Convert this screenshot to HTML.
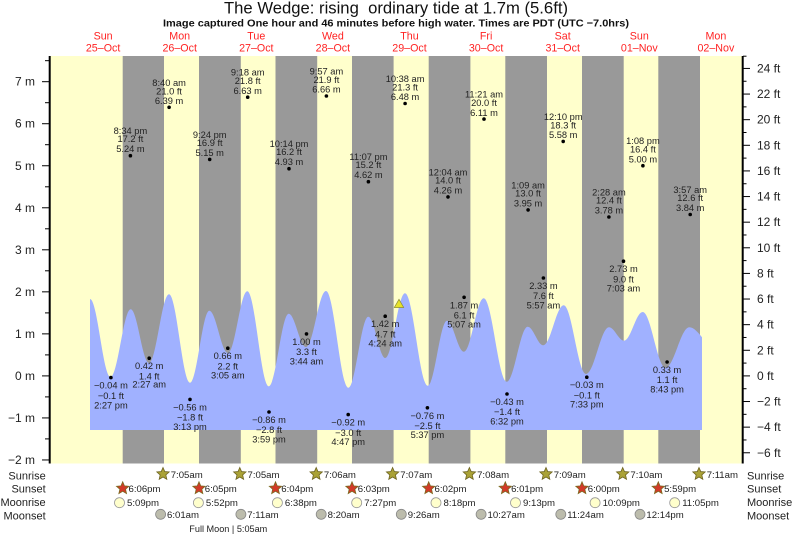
<!DOCTYPE html>
<html><head><meta charset="utf-8"><style>
html,body{margin:0;padding:0;background:#fff;}
svg{display:block;}
</style></head><body>
<svg width="793" height="537" viewBox="0 0 793 537" xmlns="http://www.w3.org/2000/svg" font-family="'Liberation Sans', Arial, sans-serif">
<defs>
<path id="star" d="M0,-6.5 L1.76,-2.43 L6.18,-2.01 L2.85,0.93 L3.82,5.26 L0,3 L-3.82,5.26 L-2.85,0.93 L-6.18,-2.01 L-1.76,-2.43 Z"/>
<clipPath id="tc"><rect x="90" y="56" width="612" height="380"/></clipPath>
</defs>
<rect width="793" height="537" fill="#fff"/>
<!-- title -->
<text x="224" y="13.5" font-size="16.5" fill="#111" textLength="344" lengthAdjust="spacingAndGlyphs">The Wedge: rising &#160;ordinary tide at 1.7m (5.6ft)</text>
<text x="163" y="26.5" font-size="10.5" font-weight="bold" fill="#111" textLength="466" lengthAdjust="spacingAndGlyphs">Image captured One hour and 46 minutes before high water. Times are PDT (UTC −7.0hrs)</text>
<!-- day labels -->
<g font-size="10.7" fill="#f22" text-anchor="middle">
<text x="103.1" y="39.5">Sun</text><text x="103.1" y="51.5">25–Oct</text>
<text x="179.7" y="39.5">Mon</text><text x="179.7" y="51.5">26–Oct</text>
<text x="256.3" y="39.5">Tue</text><text x="256.3" y="51.5">27–Oct</text>
<text x="332.9" y="39.5">Wed</text><text x="332.9" y="51.5">28–Oct</text>
<text x="409.5" y="39.5">Thu</text><text x="409.5" y="51.5">29–Oct</text>
<text x="486.1" y="39.5">Fri</text><text x="486.1" y="51.5">30–Oct</text>
<text x="562.7" y="39.5">Sat</text><text x="562.7" y="51.5">31–Oct</text>
<text x="639.3" y="39.5">Sun</text><text x="639.3" y="51.5">01–Nov</text>
<text x="715.9" y="39.5">Mon</text><text x="715.9" y="51.5">02–Nov</text>
</g>
<!-- plot background -->
<rect x="50" y="56" width="692.5" height="407.5" fill="#ffffcc"/>
<g fill="#999999">
<rect x="122.7" y="56" width="41.3" height="407.5"/>
<rect x="199" y="56" width="41.8" height="407.5"/>
<rect x="275.5" y="56" width="41.7" height="407.5"/>
<rect x="352" y="56" width="41.6" height="407.5"/>
<rect x="428.7" y="56" width="41.7" height="407.5"/>
<rect x="505.3" y="56" width="41.7" height="407.5"/>
<rect x="582" y="56" width="41.7" height="407.5"/>
<rect x="658.3" y="56" width="41.7" height="407.5"/>
</g>
<!-- tide curve -->
<path clip-path="url(#tc)" fill="#a0b1ff" d="M90,430 L90,299 C97.46,299 103.04,377 110.5,377 C117.85,377 123.35,309.3 130.7,309.3 C137.36,309.3 142.34,363 149,363 C156.28,363 161.72,294.3 169,294.3 C176.64,294.3 182.36,382.7 190,382.7 C197.03,382.7 202.27,310.7 209.3,310.7 C216.11,310.7 221.19,353 228,353 C235.03,353 240.27,291.3 247.3,291.3 C255.09,291.3 260.91,386.3 268.7,386.3 C275.98,386.3 281.42,313.7 288.7,313.7 C295,313.7 299.7,347 306,347 C313.28,347 318.72,291 326,291 C334.12,291 340.18,387.7 348.3,387.7 C355.58,387.7 361.02,316.7 368.3,316.7 C374.49,316.7 379.11,358 385.3,358 C392.47,358 397.83,293.3 405,293.3 C413.26,293.3 419.44,385.7 427.7,385.7 C434.73,385.7 439.97,320.7 447,320.7 C453.19,320.7 457.81,351.7 464,351.7 C471.17,351.7 476.53,298.3 483.7,298.3 C492.07,298.3 498.33,381.7 506.7,381.7 C514.34,381.7 520.06,326.7 527.7,326.7 C533.38,326.7 537.62,345.3 543.3,345.3 C550.73,345.3 556.27,305.3 563.7,305.3 C571.82,305.3 577.88,374 586,374 C594.37,374 600.63,327.3 609,327.3 C614.46,327.3 618.54,340.7 624,340.7 C630.81,340.7 635.89,312 642.7,312 C651,312 657.2,367.7 665.5,367.7 C674.16,367.7 680.64,327.3 689.3,327.3 C697.56,327.3 703.74,344 712,344 L712,430 Z"/>
<!-- current marker -->
<polygon points="399,299.3 394.3,307.5 403.7,307.5" fill="#e6e22a" stroke="#8a8a30" stroke-width="0.7"/>
<!-- dots -->
<g fill="#000">
<circle cx="130.4" cy="155.7" r="1.8"/><circle cx="169.1" cy="107.3" r="1.8"/><circle cx="209.7" cy="159.4" r="1.8"/>
<circle cx="247.7" cy="97.2" r="1.8"/><circle cx="289" cy="168.7" r="1.8"/><circle cx="326.4" cy="96" r="1.8"/>
<circle cx="368.4" cy="181.7" r="1.8"/><circle cx="405.1" cy="103.5" r="1.8"/><circle cx="448" cy="196.9" r="1.8"/>
<circle cx="484" cy="119.1" r="1.8"/><circle cx="528.1" cy="209.9" r="1.8"/><circle cx="563.2" cy="141.4" r="1.8"/>
<circle cx="608.9" cy="217" r="1.8"/><circle cx="642.9" cy="165.7" r="1.8"/><circle cx="690.2" cy="214.5" r="1.8"/>
<circle cx="110.9" cy="377.6" r="1.8"/><circle cx="149.2" cy="358.2" r="1.8"/><circle cx="190" cy="399.4" r="1.8"/>
<circle cx="227.8" cy="348.2" r="1.8"/><circle cx="269" cy="412" r="1.8"/><circle cx="306.5" cy="333.9" r="1.8"/>
<circle cx="348.2" cy="414.6" r="1.8"/><circle cx="385.2" cy="316.2" r="1.8"/><circle cx="427.4" cy="407.8" r="1.8"/>
<circle cx="464.1" cy="297.3" r="1.8"/><circle cx="507" cy="394" r="1.8"/><circle cx="543.4" cy="278" r="1.8"/>
<circle cx="586.8" cy="377.2" r="1.8"/><circle cx="623.5" cy="261.2" r="1.8"/><circle cx="667.1" cy="362" r="1.8"/>
</g>
<!-- high labels -->
<g font-size="9.3" fill="#222" text-anchor="middle">
<text x="130.4" y="134.2">8:34 pm</text><text x="130.4" y="142.2">17.2 ft</text><text x="130.4" y="152.2">5.24 m</text>
<text x="169.1" y="85.8">8:40 am</text><text x="169.1" y="94.3">21.0 ft</text><text x="169.1" y="104">6.39 m</text>
<text x="209.7" y="137.9">9:24 pm</text><text x="209.7" y="145.9">16.9 ft</text><text x="209.7" y="155.9">5.15 m</text>
<text x="247.7" y="75.7">9:18 am</text><text x="247.7" y="84.2">21.8 ft</text><text x="247.7" y="93.9">6.63 m</text>
<text x="289" y="147.2">10:14 pm</text><text x="289" y="155.2">16.2 ft</text><text x="289" y="165.2">4.93 m</text>
<text x="326.4" y="74.5">9:57 am</text><text x="326.4" y="83">21.9 ft</text><text x="326.4" y="92.7">6.66 m</text>
<text x="368.4" y="160.2">11:07 pm</text><text x="368.4" y="168.2">15.2 ft</text><text x="368.4" y="178.2">4.62 m</text>
<text x="405.1" y="82">10:38 am</text><text x="405.1" y="90.5">21.3 ft</text><text x="405.1" y="100.2">6.48 m</text>
<text x="448" y="175.4">12:04 am</text><text x="448" y="183.4">14.0 ft</text><text x="448" y="193.4">4.26 m</text>
<text x="484" y="97.6">11:21 am</text><text x="484" y="106.1">20.0 ft</text><text x="484" y="115.8">6.11 m</text>
<text x="528.1" y="188.4">1:09 am</text><text x="528.1" y="196.4">13.0 ft</text><text x="528.1" y="206.4">3.95 m</text>
<text x="563.2" y="119.9">12:10 pm</text><text x="563.2" y="128.4">18.3 ft</text><text x="563.2" y="138.1">5.58 m</text>
<text x="608.9" y="195.5">2:28 am</text><text x="608.9" y="203.5">12.4 ft</text><text x="608.9" y="213.5">3.78 m</text>
<text x="642.9" y="144.2">1:08 pm</text><text x="642.9" y="152.7">16.4 ft</text><text x="642.9" y="162.4">5.00 m</text>
<text x="690.2" y="193">3:57 am</text><text x="690.2" y="201">12.6 ft</text><text x="690.2" y="211">3.84 m</text>
</g>
<!-- low labels -->
<g font-size="9.3" fill="#222" text-anchor="middle">
<text x="110.9" y="388.6">−0.04 m</text><text x="110.9" y="399">−0.1 ft</text><text x="110.9" y="408.3">2:27 pm</text>
<text x="149.2" y="369.2">0.42 m</text><text x="149.2" y="379.4">1.4 ft</text><text x="149.2" y="387.6">2:27 am</text>
<text x="190" y="410.4">−0.56 m</text><text x="190" y="420.6">−1.8 ft</text><text x="190" y="429.8">3:13 pm</text>
<text x="227.8" y="359.2">0.66 m</text><text x="227.8" y="369.4">2.2 ft</text><text x="227.8" y="378.6">3:05 am</text>
<text x="269" y="423">−0.86 m</text><text x="269" y="433.2">−2.8 ft</text><text x="269" y="442.4">3:59 pm</text>
<text x="306.5" y="344.9">1.00 m</text><text x="306.5" y="355.1">3.3 ft</text><text x="306.5" y="364.3">3:44 am</text>
<text x="348.2" y="425.6">−0.92 m</text><text x="348.2" y="435.8">−3.0 ft</text><text x="348.2" y="445">4:47 pm</text>
<text x="385.2" y="327.2">1.42 m</text><text x="385.2" y="337.4">4.7 ft</text><text x="385.2" y="346.6">4:24 am</text>
<text x="427.4" y="418.8">−0.76 m</text><text x="427.4" y="429">−2.5 ft</text><text x="427.4" y="438.2">5:37 pm</text>
<text x="464.1" y="308.3">1.87 m</text><text x="464.1" y="318.5">6.1 ft</text><text x="464.1" y="327.7">5:07 am</text>
<text x="507" y="405">−0.43 m</text><text x="507" y="415.2">−1.4 ft</text><text x="507" y="424.4">6:32 pm</text>
<text x="543.4" y="289">2.33 m</text><text x="543.4" y="299.2">7.6 ft</text><text x="543.4" y="308.4">5:57 am</text>
<text x="586.8" y="388.2">−0.03 m</text><text x="586.8" y="398.4">−0.1 ft</text><text x="586.8" y="407.6">7:33 pm</text>
<text x="623.5" y="272.2">2.73 m</text><text x="623.5" y="282.4">9.0 ft</text><text x="623.5" y="291.6">7:03 am</text>
<text x="667.1" y="373">0.33 m</text><text x="667.1" y="383.2">1.1 ft</text><text x="667.1" y="392.4">8:43 pm</text>
</g>
<!-- left axis -->
<line x1="49.7" y1="56" x2="49.7" y2="463.5" stroke="#000" stroke-width="2"/>
<g stroke="#000" stroke-width="1">
<line x1="42" y1="459.96" x2="49" y2="459.96"/><line x1="42" y1="417.93" x2="49" y2="417.93"/>
<line x1="42" y1="375.9" x2="49" y2="375.9"/><line x1="42" y1="333.87" x2="49" y2="333.87"/>
<line x1="42" y1="291.84" x2="49" y2="291.84"/><line x1="42" y1="249.81" x2="49" y2="249.81"/>
<line x1="42" y1="207.78" x2="49" y2="207.78"/><line x1="42" y1="165.75" x2="49" y2="165.75"/>
<line x1="42" y1="123.72" x2="49" y2="123.72"/><line x1="42" y1="81.69" x2="49" y2="81.69"/>
<line x1="45" y1="60.68" x2="49" y2="60.68"/><line x1="45" y1="102.7" x2="49" y2="102.7"/>
<line x1="45" y1="144.7" x2="49" y2="144.7"/><line x1="45" y1="186.8" x2="49" y2="186.8"/>
<line x1="45" y1="228.8" x2="49" y2="228.8"/><line x1="45" y1="270.8" x2="49" y2="270.8"/>
<line x1="45" y1="312.9" x2="49" y2="312.9"/><line x1="45" y1="354.9" x2="49" y2="354.9"/>
<line x1="45" y1="396.9" x2="49" y2="396.9"/><line x1="45" y1="438.9" x2="49" y2="438.9"/>
</g>
<g font-size="12" fill="#222" text-anchor="end">
<text x="35" y="464">−2 m</text><text x="35" y="421.9">−1 m</text><text x="35" y="379.9">0 m</text>
<text x="35" y="337.9">1 m</text><text x="35" y="295.8">2 m</text><text x="35" y="253.8">3 m</text>
<text x="35" y="211.8">4 m</text><text x="35" y="169.8">5 m</text><text x="35" y="127.7">6 m</text>
<text x="35" y="85.7">7 m</text>
</g>
<!-- right axis -->
<line x1="742.7" y1="56" x2="742.7" y2="463.5" stroke="#000" stroke-width="2"/>
<g stroke="#000" stroke-width="1">
<line x1="743" y1="68.43" x2="750" y2="68.43"/><line x1="743" y1="94.06" x2="750" y2="94.06"/>
<line x1="743" y1="119.68" x2="750" y2="119.68"/><line x1="743" y1="145.3" x2="750" y2="145.3"/>
<line x1="743" y1="170.92" x2="750" y2="170.92"/><line x1="743" y1="196.55" x2="750" y2="196.55"/>
<line x1="743" y1="222.17" x2="750" y2="222.17"/><line x1="743" y1="247.79" x2="750" y2="247.79"/>
<line x1="743" y1="273.41" x2="750" y2="273.41"/><line x1="743" y1="299.03" x2="750" y2="299.03"/>
<line x1="743" y1="324.66" x2="750" y2="324.66"/><line x1="743" y1="350.28" x2="750" y2="350.28"/>
<line x1="743" y1="375.9" x2="750" y2="375.9"/><line x1="743" y1="401.52" x2="750" y2="401.52"/>
<line x1="743" y1="427.14" x2="750" y2="427.14"/><line x1="743" y1="452.77" x2="750" y2="452.77"/>
<line x1="743" y1="56.2" x2="746.5" y2="56.2"/><line x1="743" y1="81.25" x2="746.5" y2="81.25"/>
<line x1="743" y1="106.87" x2="746.5" y2="106.87"/><line x1="743" y1="132.49" x2="746.5" y2="132.49"/>
<line x1="743" y1="158.11" x2="746.5" y2="158.11"/><line x1="743" y1="183.74" x2="746.5" y2="183.74"/>
<line x1="743" y1="209.36" x2="746.5" y2="209.36"/><line x1="743" y1="234.98" x2="746.5" y2="234.98"/>
<line x1="743" y1="260.6" x2="746.5" y2="260.6"/><line x1="743" y1="286.22" x2="746.5" y2="286.22"/>
<line x1="743" y1="311.85" x2="746.5" y2="311.85"/><line x1="743" y1="337.47" x2="746.5" y2="337.47"/>
<line x1="743" y1="363.09" x2="746.5" y2="363.09"/><line x1="743" y1="388.71" x2="746.5" y2="388.71"/>
<line x1="743" y1="414.33" x2="746.5" y2="414.33"/><line x1="743" y1="439.96" x2="746.5" y2="439.96"/>
</g>
<g font-size="12" fill="#222">
<text x="757" y="72.4">24 ft</text><text x="757" y="98.1">22 ft</text><text x="757" y="123.7">20 ft</text>
<text x="757" y="149.3">18 ft</text><text x="757" y="174.9">16 ft</text><text x="757" y="200.5">14 ft</text>
<text x="757" y="226.2">12 ft</text><text x="757" y="251.8">10 ft</text><text x="757" y="277.4">8 ft</text>
<text x="757" y="303">6 ft</text><text x="757" y="328.7">4 ft</text><text x="757" y="354.3">2 ft</text>
<text x="757" y="379.9">0 ft</text><text x="757" y="405.5">−2 ft</text><text x="757" y="431.1">−4 ft</text>
<text x="757" y="456.8">−6 ft</text>
</g>
<!-- bottom rows labels -->
<g font-size="11" fill="#222">
<g text-anchor="end">
<text x="45.7" y="479.3">Sunrise</text><text x="45.7" y="492.7">Sunset</text>
<text x="45.7" y="505.9">Moonrise</text><text x="45.7" y="519.3">Moonset</text>
</g>
<text x="747" y="479.3">Sunrise</text><text x="747" y="492.7">Sunset</text>
<text x="747" y="505.9">Moonrise</text><text x="747" y="519.3">Moonset</text>
</g>
<!-- sunrise stars -->
<g fill="#aaa236" stroke="#6e6420" stroke-width="0.8">
<use href="#star" x="163" y="474"/><use href="#star" x="239.8" y="474"/><use href="#star" x="316.2" y="474"/>
<use href="#star" x="392.6" y="474"/><use href="#star" x="469.4" y="474"/><use href="#star" x="546" y="474"/>
<use href="#star" x="622.7" y="474"/><use href="#star" x="699" y="474"/>
</g>
<!-- sunset stars -->
<g fill="#d23a28" stroke="#7a6a20" stroke-width="0.8">
<use href="#star" x="122.7" y="488.3"/><use href="#star" x="199" y="488.3"/><use href="#star" x="275.5" y="488.3"/>
<use href="#star" x="352" y="488.3"/><use href="#star" x="428.7" y="488.3"/><use href="#star" x="505.3" y="488.3"/>
<use href="#star" x="582" y="488.3"/><use href="#star" x="658.3" y="488.3"/>
</g>
<!-- moonrise -->
<g fill="#ffffcc" stroke="#999" stroke-width="0.8">
<circle cx="119.5" cy="502.7" r="5"/><circle cx="198.4" cy="502.7" r="5"/><circle cx="277.4" cy="502.7" r="5"/>
<circle cx="356.7" cy="502.7" r="5"/><circle cx="436" cy="502.7" r="5"/><circle cx="515.5" cy="502.7" r="5"/>
<circle cx="595.1" cy="502.7" r="5"/><circle cx="674.7" cy="502.7" r="5"/>
</g>
<!-- moonset -->
<g fill="#bcbcac" stroke="#888" stroke-width="0.8">
<circle cx="160.6" cy="514.3" r="5"/><circle cx="240.9" cy="514.3" r="5"/><circle cx="321.2" cy="514.3" r="5"/>
<circle cx="401.3" cy="514.3" r="5"/><circle cx="481.1" cy="514.3" r="5"/><circle cx="560.8" cy="514.3" r="5"/>
<circle cx="640" cy="514.3" r="5"/>
</g>
<g font-size="9.6" fill="#222">
<text x="170.7" y="477.8">7:05am</text><text x="247.5" y="477.8">7:05am</text><text x="323.9" y="477.8">7:06am</text>
<text x="400.3" y="477.8">7:07am</text><text x="477.1" y="477.8">7:08am</text><text x="553.7" y="477.8">7:09am</text>
<text x="630.4" y="477.8">7:10am</text><text x="706.7" y="477.8">7:11am</text>
<text x="128.5" y="492">6:06pm</text><text x="204.8" y="492">6:05pm</text><text x="281.3" y="492">6:04pm</text>
<text x="357.8" y="492">6:03pm</text><text x="434.5" y="492">6:02pm</text><text x="511.1" y="492">6:01pm</text>
<text x="587.8" y="492">6:00pm</text><text x="664.1" y="492">5:59pm</text>
<text x="127" y="506.2">5:09pm</text><text x="205.9" y="506.2">5:52pm</text><text x="284.9" y="506.2">6:38pm</text>
<text x="364.2" y="506.2">7:27pm</text><text x="443.5" y="506.2">8:18pm</text><text x="523" y="506.2">9:13pm</text>
<text x="602.6" y="506.2">10:09pm</text><text x="682.2" y="506.2">11:05pm</text>
<text x="167" y="518">6:01am</text><text x="247.3" y="518">7:11am</text><text x="327.6" y="518">8:20am</text>
<text x="407.7" y="518">9:26am</text><text x="487.5" y="518">10:27am</text><text x="567.2" y="518">11:24am</text>
<text x="646.4" y="518">12:14pm</text>
</g>
<text x="189.3" y="532" font-size="9.3" fill="#222" textLength="78" lengthAdjust="spacingAndGlyphs">Full Moon | 5:05am</text>
</svg>
</body></html>
